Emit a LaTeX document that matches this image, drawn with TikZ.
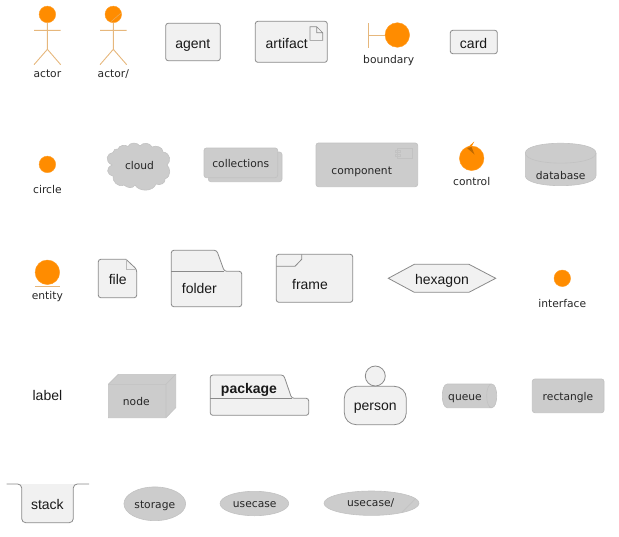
\documentclass[tikz,border=0pt]{standalone}
\usepackage{fontspec}
\setmainfont{DejaVu Sans}
\newfontfamily\arialfont{Liberation Sans}
\usetikzlibrary{shapes.geometric}
\definecolor{dotorange}{HTML}{FF8C00}
\definecolor{stickline}{HTML}{E6B77C}
\definecolor{boxfill}{HTML}{F1F1F1}
\definecolor{boxline}{HTML}{8A8A8A}
\definecolor{greyfill}{HTML}{CCCCCC}
\definecolor{greyline}{HTML}{C2C2C2}

\begin{document}
\begin{tikzpicture}[
  x=1pt,y=-1pt,
  small/.style={font=\fontsize{10.7}{12}\selectfont,text=black!85,inner sep=0pt,anchor=base},
  big/.style={font=\arialfont\fontsize{14}{16}\selectfont,text=black!90,inner sep=0pt,anchor=base},
  whitebox/.style={draw=boxline,fill=boxfill,line width=.8pt,rounded corners=2.5pt},
  greybox/.style={draw=greyline,fill=greyfill,line width=.7pt,rounded corners=2.5pt},
  greyshape/.style={draw=greyline,fill=greyfill,line width=.6pt},
  stick/.style={draw=stickline,line width=.9pt},
  dot/.style={circle,fill=dotorange,draw=dotorange!85!white,line width=.4pt,inner sep=0pt},
  ]
  \useasboundingbox (0,0) rectangle (619,536);
  %Row one
  \node[dot,minimum size=16.6pt](actorhead) at (47.4,14.4){};
  \draw[stick] (actorhead.south) -- (47.4,49.3) -- (34,64.7) (47.4,49.3) -- (60.7,64.7) (34,30.3) -- (60.7,30.3);
  \node[small](actorlabel) at (47.4,77){actor};
  \node[dot,minimum size=16.6pt](actorbhead) at (113.3,14.4){};
  \draw[stick] (actorbhead.south) -- (113.3,49.3) -- (100,64.7) (113.3,49.3) -- (126.7,64.7) (100,30.3) -- (126.7,30.3);
  \draw[stickline!70!dotorange,line width=.6pt] (111,21.7) -- (120.7,13.3);
  \node[small](actorblabel) at (113.3,77){actor/};
  \draw[whitebox] (165.7,23.3) rectangle (220.3,60.7);
  \node[big](agent) at (192.8,48.3){agent};
  \draw[whitebox] (255.3,21.3) rectangle (327.3,62.3);
  \node[big](artifact) at (286.7,48.5){artifact};
  \draw[draw=boxline,line width=.6pt] (310,26.7) -- (316.7,26.7) -- (322.7,32.7) -- (322.7,40.3) -- (310,40.3) -- cycle (316.7,26.7) -- (316.7,32.7) -- (322.7,32.7);
  \node[dot,minimum size=24.6pt](bound) at (397.3,35){};
  \coordinate (boundt) at (368.3,23.3);
  \coordinate (boundb) at (368.3,47.7);
  \coordinate (boundm) at (368.3,35);
  \draw[stick] (boundt) -- (boundb) (boundm) -- (bound);
  \node[small](boundary) at (388.7,63){boundary};
  \draw[whitebox] (450.3,30.3) rectangle (497.3,53.7);
  \node[big](card) at (473.6,48.3){card};
  %Row two
  \node[dot,minimum size=16.6pt](circ) at (47.4,164.4){};
  \node[small](circlabel) at (47.4,193){circle};
  \draw[greyshape] (118,149)
    .. controls (119,145.5) and (125,144) .. (128,146.5)
    .. controls (130,142) and (137,142) .. (140,146)
    .. controls (143,142) and (150,142.5) .. (152,147)
    .. controls (156,145) and (163,147) .. (163,152)
    .. controls (171,153) and (171,162) .. (167,165)
    .. controls (170,167.5) and (172,176) .. (165,179)
    .. controls (166,183) and (160,186) .. (156,184)
    .. controls (153,192) and (139,192) .. (135,185)
    .. controls (133,189) and (127,188) .. (124,185)
    .. controls (118,188) and (112,181) .. (113,176)
    .. controls (106,174) and (106,168) .. (112,165)
    .. controls (104,161) and (107,153) .. (113,152.5)
    .. controls (113,150) and (116,148) .. (118,149) -- cycle;
  \node[small](cloud) at (139.5,169){cloud};
  \draw[greyshape,rounded corners=2.5pt] (208.3,152) rectangle (282,181.7);
  \draw[greybox] (204,148) rectangle (277.7,177.7);
  \node[small](collections) at (240.8,167){collections};
  \draw[greybox] (316,143) rectangle (417.7,186.7);
  \draw[draw=greyline,line width=.6pt] (397.3,148.3) rectangle (412.7,158.7) (395,150.3) rectangle (400,152.7) (395,154.3) rectangle (400,156.7);
  \node[small](component) at (361.7,174.3){component};
  \node[dot,minimum size=24.6pt](ctrl) at (471.7,158.3){};
  \fill[dotorange] (474.3,141.5) -- (467,148) -- (474.5,154.5) -- (471.3,147) -- cycle;
  \fill[black!25!dotorange] (471.5,147) -- (467,148) -- (474.5,154.5) -- cycle;
  \node[small](control) at (471.7,185){control};
  \draw[greyshape] (525.3,153)
    .. controls (525.3,140) and (596,140) .. (596,153) -- (596,175.7)
    .. controls (596,189) and (525.3,189) .. (525.3,175.7) -- cycle;
  \draw[draw=greyline,line width=.6pt] (525.3,153) .. controls (525.3,166.5) and (596,166.5) .. (596,153);
  \node[small](database) at (560.7,179){database};
  %Row three
  \node[dot,minimum size=24.6pt](ent) at (47.4,272.3){};
  \coordinate (entl) at (35,286);
  \coordinate (entr) at (60,286);
  \draw[stick] (entl) -- (entr);
  \node[small](entity) at (47.4,299.3){entity};
  \draw[whitebox] (126,259.3) -- (98.3,259.3) -- (98.3,297.7) -- (136.7,297.7) -- (136.7,269.3) [sharp corners] -- (126,259.3) -- cycle;
  \draw[draw=boxline!60!white,line width=.5pt] (126,259.3) -- (126,269.3) -- (136.7,269.3);
  \node[big](file) at (117.7,284){file};
  \draw[whitebox] (171.3,271.3) -- (171.3,250.3) -- (216.7,250.3) -- (224.3,271.3) -- (241.7,271.3) -- (241.7,306.7) -- (171.3,306.7) -- cycle;
  \draw[draw=boxline,line width=.8pt] (171.3,271.3) -- (224.3,271.3);
  \node[big](folder) at (199.4,293.3){folder};
  \draw[whitebox] (276.3,254.3) rectangle (352.7,302.3);
  \draw[draw=boxline,line width=.8pt] (301.7,254.3) -- (301.7,259.3) -- (295,266.3) -- (276.3,266.3);
  \node[big](frame) at (310,289){frame};
  \draw[draw=boxline,fill=boxfill,line width=.8pt] (388.3,278.3) -- (414.3,264.3) -- (469,264.3) -- (495.7,278.3) -- (469,292.3) -- (414.3,292.3) -- cycle;
  \node[big](hexagon) at (442,284){hexagon};
  \node[dot,minimum size=16.6pt](iface) at (562.3,278.3){};
  \node[small](interface) at (562.3,307){interface};
  %Row four
  \node[big](labelnode) at (47.4,400.7){label};
  \draw[greyshape] (108.3,384.3) -- (118.3,374.3) -- (175.7,374.3) -- (175.7,407.7) -- (166,417.7) -- (108.3,417.7) -- cycle;
  \draw[draw=greyline,line width=.6pt] (108.3,384.3) -- (166,384.3) -- (175.7,374.3) (166,384.3) -- (166,417.7);
  \node[small](nodebox) at (136.3,405){node};
  \draw[whitebox] (210.3,398.3) -- (210.3,375) -- (283.7,375) -- (291.7,398.3) -- (308.7,398.3) -- (308.7,415.3) -- (210.3,415.3) -- cycle;
  \draw[draw=boxline,line width=.8pt] (210.3,398.3) -- (291.7,398.3);
  \node[big,font=\arialfont\bfseries\fontsize{14}{16}\selectfont](package) at (249,393.3){package};
  \draw[whitebox,rounded corners=12pt] (344.3,386.3) rectangle (406.3,424.7);
  \node[circle,draw=boxline,fill=boxfill,line width=.8pt,minimum size=20pt,inner sep=0pt](personhead) at (375.3,376){};
  \node[big](person) at (375.3,410.7){person};
  \draw[greyshape] (491.7,384) -- (447.3,384)
    .. controls (440.6,384) and (440.6,407.7) .. (447.3,407.7) -- (491.7,407.7)
    .. controls (498.4,407.7) and (498.4,384) .. (491.7,384)
    .. controls (485,384) and (485,407.7) .. (491.7,407.7);
  \node[small](queue) at (465,400){queue};
  \draw[greybox] (532.3,379) rectangle (604,412.7);
  \node[small](rectnode) at (568,400){rectangle};
  %Row five
  \draw[whitebox,rounded corners=4pt] (6.7,484) -- (21.7,484) -- (21.7,522.7) -- (73.3,522.7) -- (73.3,484) -- (89,484);
  \node[big](stack) at (47.4,509.3){stack};
  \node[ellipse,greyshape,minimum width=61.7pt,minimum height=33.7pt,inner sep=0pt](storagebox) at (154.8,503.8){};
  \node[small](storage) at (154.8,508.3){storage};
  \node[ellipse,greyshape,minimum width=68.7pt,minimum height=24.4pt,inner sep=0pt](usecasebox) at (254.4,503.5){};
  \node[small](usecase) at (254.7,507.7){usecase};
  \node[ellipse,greyshape,minimum width=95pt,minimum height=24.4pt,inner sep=0pt](usecasebbox) at (371.5,503.2){};
  \coordinate (slasha) at (401.7,512.7);
  \coordinate (slashb) at (415,499.3);
  \draw[draw=greyline,line width=.6pt] (slasha) -- (slashb);
  \node[small](usecaseb) at (370.7,506.3){usecase/};
\end{tikzpicture}
\end{document}
